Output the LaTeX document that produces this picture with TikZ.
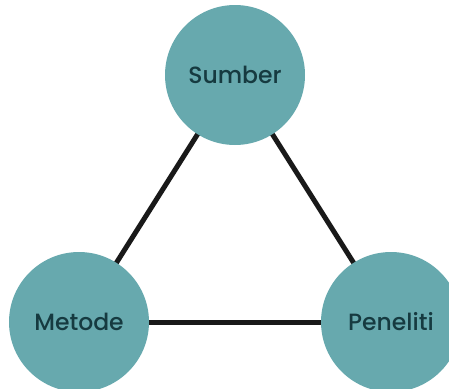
\documentclass[tikz,border=0pt]{standalone}
\usepackage{fontspec}
\setmainfont{Poppins}[UprightFont=* Medium]
\definecolor{circfill}{HTML}{67A9AE}
\definecolor{labeltext}{HTML}{163A40}
\begin{document}
\begin{tikzpicture}[x=1pt,y=-1pt,
  hub/.style={circle,fill=circfill,minimum size=140pt,inner sep=0pt,
    text=labeltext,font=\fontsize{23.5}{26}\selectfont},
  link/.style={line width=5pt,draw=black!90}]
  \useasboundingbox (0,0) rectangle (449,388);
  % connectors first, so the circles cover their ends
  \coordinate (s) at (235,75);
  \coordinate (m) at (79,322);
  \coordinate (p) at (391,322);
  \draw[link] (s) -- (m);
  \draw[link] (s) -- (p);
  \draw[link] (m) -- (p);
  \node[hub] (src) at (s) {Sumber};
  \node[hub] (met) at (m) {Metode};
  \node[hub] (pen) at (p) {Peneliti};
\end{tikzpicture}
\end{document}
